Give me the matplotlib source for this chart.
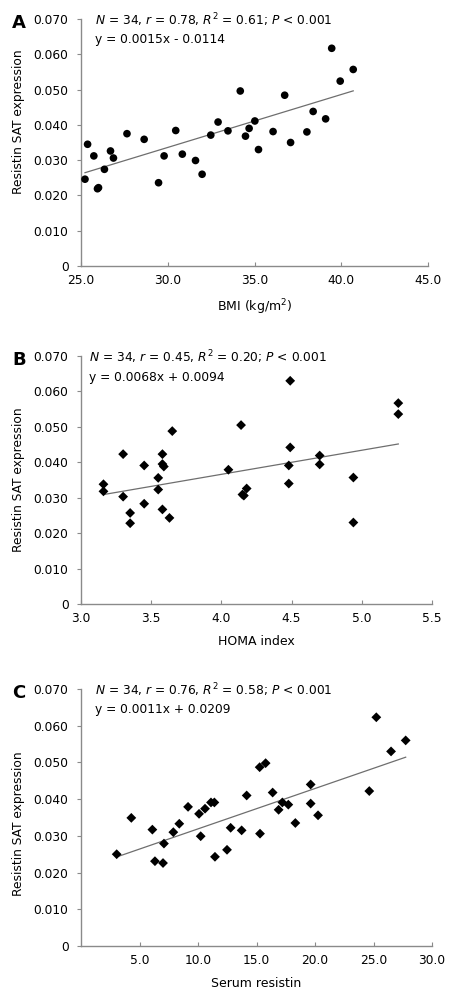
"""Resistin SAT expression vs BMI, HOMA index and serum resistin (three panels)."""

import matplotlib
matplotlib.use("Agg")
import matplotlib.pyplot as plt
import numpy as np
from matplotlib.ticker import FuncFormatter


# Panel A: BMI
bmi_x = [25.23, 25.38, 25.74, 25.95, 26.01, 26.35, 26.70, 26.87, 27.65, 28.64, 29.47,
         29.79, 30.46, 30.84, 31.60, 31.98, 32.48, 32.90, 33.47, 34.18, 34.48, 34.69,
         35.02, 35.23, 36.07, 36.74, 37.08, 38.02, 38.38, 39.10, 39.45, 39.94, 40.69]
bmi_y = [0.0246, 0.0345, 0.0312, 0.0219, 0.0222, 0.0274, 0.0326, 0.0306, 0.0375, 0.0359, 0.0236,
         0.0312, 0.0384, 0.0317, 0.0299, 0.0260, 0.0371, 0.0408, 0.0383, 0.0496, 0.0368, 0.0390,
         0.0411, 0.0330, 0.0381, 0.0484, 0.0350, 0.0380, 0.0438, 0.0417, 0.0617, 0.0524, 0.0557]

# Panel B: HOMA index
homa_x = [3.16, 3.16, 3.30, 3.30, 3.35, 3.35, 3.45, 3.45, 3.55, 3.55, 3.58, 3.58, 3.59,
          3.58, 3.63, 3.65, 4.05, 4.14, 4.15, 4.16, 4.18, 4.49, 4.49, 4.48, 4.48, 4.70,
          4.70, 4.94, 4.94, 5.26, 5.26]
homa_y = [0.0338, 0.0318, 0.0423, 0.0303, 0.0257, 0.0228, 0.0391, 0.0283, 0.0356, 0.0323,
          0.0423, 0.0395, 0.0388, 0.0267, 0.0243, 0.0488, 0.0379, 0.0505, 0.0309, 0.0306,
          0.0326, 0.0630, 0.0442, 0.0391, 0.0340, 0.0419, 0.0394, 0.0357, 0.0230, 0.0567, 0.0536]

# Panel C: serum resistin
serum_x = [3.05, 4.30, 6.10, 6.32, 7.01, 7.09, 7.89, 8.40, 9.15, 10.09, 10.23, 10.60,
           11.11, 11.40, 11.45, 12.48, 12.79, 13.73, 14.16, 15.30, 15.27, 15.78, 16.38,
           16.89, 17.21, 17.72, 18.32, 19.63, 19.63, 20.26, 24.64, 25.24, 26.50, 27.75]
serum_y = [0.0250, 0.0349, 0.0317, 0.0231, 0.0226, 0.0279, 0.0310, 0.0333, 0.0379, 0.0360,
           0.0299, 0.0374, 0.0391, 0.0391, 0.0243, 0.0262, 0.0322, 0.0315, 0.0410, 0.0306,
           0.0487, 0.0498, 0.0418, 0.0371, 0.0391, 0.0385, 0.0335, 0.0440, 0.0388, 0.0356,
           0.0422, 0.0623, 0.0530, 0.0560]

PANELS = [
    dict(letter="A", x=bmi_x, y=bmi_y, slope=0.0015, intercept=-0.0114, marker="o", ms=5.5,
         stats="$N$ = 34, $r$ = 0.78, $R^2$ = 0.61; $P$ < 0.001",
         eq="y = 0.0015x - 0.0114", xlabel="BMI (kg/m$^2$)",
         xlim=(25, 45), xticks=[25, 30, 35, 40, 45],
         rect=[81 / 453, 1 - 266 / 1000, 347 / 453, 247 / 1000], text_x=95, ylab_pos=0.585),
    dict(letter="B", x=homa_x, y=homa_y, slope=0.0068, intercept=0.0094, marker="D", ms=5.0,
         stats="$N$ = 34, $r$ = 0.45, $R^2$ = 0.20; $P$ < 0.001",
         eq="y = 0.0068x + 0.0094", xlabel="HOMA index",
         xlim=(3.0, 5.5), xticks=[3.0, 3.5, 4.0, 4.5, 5.0, 5.5],
         rect=[81 / 453, 1 - 604 / 1000, 351 / 453, 248 / 1000], text_x=89, ylab_pos=0.5),
    dict(letter="C", x=serum_x, y=serum_y, slope=0.0011, intercept=0.0209, marker="D", ms=5.0,
         stats="$N$ = 34, $r$ = 0.76, $R^2$ = 0.58; $P$ < 0.001",
         eq="y = 0.0011x + 0.0209", xlabel="Serum resistin",
         xlim=(0, 30), xticks=[5, 10, 15, 20, 25, 30],
         rect=[81 / 453, 1 - 946 / 1000, 351 / 453, 257 / 1000], text_x=95, ylab_pos=0.475),
]

AXIS_COLOR = "#8a8a8a"
LINE_COLOR = "#6e6e6e"

plt.rcParams["font.family"] = ["DejaVu Sans"]
plt.rcParams["mathtext.fontset"] = "dejavusans"

fig = plt.figure(figsize=(4.53, 10), dpi=100)

for p in PANELS:
    ax = fig.add_axes(p["rect"])
    ax.scatter(p["x"], p["y"], marker=p["marker"], s=p["ms"] ** 2, color="black",
               edgecolors="none", zorder=3)

    xs = np.array([min(p["x"]), max(p["x"])])
    ax.plot(xs, p["slope"] * xs + p["intercept"], color=LINE_COLOR, linewidth=0.9)

    ax.set_xlim(*p["xlim"])
    ax.set_ylim(0, 0.07)
    ax.set_xticks(p["xticks"])
    ax.set_yticks(np.arange(0, 0.0701, 0.01))
    ax.xaxis.set_major_formatter(FuncFormatter(lambda v, _: f"{v:.1f}"))
    ax.yaxis.set_major_formatter(FuncFormatter(lambda v, _: "0" if abs(v) < 1e-9 else f"{v:.3f}"))

    for side in ("top", "right"):
        ax.spines[side].set_visible(False)
    for side in ("left", "bottom"):
        ax.spines[side].set_color(AXIS_COLOR)
        ax.spines[side].set_linewidth(1.0)
    ax.tick_params(axis="y", direction="out", length=3, color=AXIS_COLOR, labelsize=8.8, pad=6)
    ax.tick_params(axis="x", direction="in", length=3, color=AXIS_COLOR, labelsize=8.8, pad=6)

    ax.set_xlabel(p["xlabel"], fontsize=9.0, labelpad=7)
    ax.set_ylabel("Resistin SAT expression", fontsize=8.8)
    ax.yaxis.set_label_coords(-56 / (p["rect"][2] * 453), p["ylab_pos"])

    top_px = (1 - p["rect"][1] - p["rect"][3]) * 1000
    fig.text(p["text_x"] / 453, 1 - (top_px + 1) / 1000, p["stats"], fontsize=8.8,
             ha="left", va="center")
    fig.text(p["text_x"] / 453, 1 - (top_px + 21) / 1000, p["eq"], fontsize=8.8,
             ha="left", va="center")
    fig.text(12 / 453, 1 - (top_px + 4) / 1000, p["letter"], fontsize=13,
             fontweight="bold", ha="left", va="center")

fig.savefig("out.png", dpi=100)
